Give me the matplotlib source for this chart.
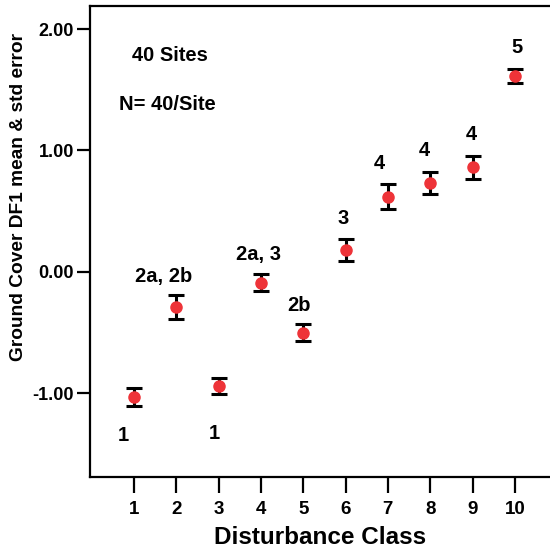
import numpy as np
import matplotlib
matplotlib.use("Agg")
import matplotlib.pyplot as plt

plt.rcParams["font.family"] = ["Liberation Sans", "DejaVu Sans"]
plt.rcParams["font.weight"] = "bold"

# data
disturbance_class = [1, 2, 3, 4, 5, 6, 7, 8, 9, 10]
df1_mean = [-1.03, -0.29, -0.94, -0.09, -0.50, 0.18, 0.62, 0.73, 0.86, 1.61]
df1_se = [0.072, 0.10, 0.068, 0.07, 0.068, 0.09, 0.10, 0.09, 0.094, 0.057]

# group letters and where they sit
group_labels = ["1", "2a, 2b", "1", "2a, 3", "2b", "3", "4", "4", "4", "5"]
label_x = [0.74, 1.71, 2.89, 3.93, 4.90, 5.94, 6.79, 7.85, 8.98, 10.05]
label_y = [-1.35, -0.04, -1.33, 0.14, -0.28, 0.44, 0.89, 1.00, 1.13, 1.85]

y_ticks = [-1.0, 0.0, 1.0, 2.0]

fig = plt.figure(figsize=(5.5, 5.54), dpi=100)
ax = fig.add_axes([90 / 550, 77 / 554, 460 / 550, 471 / 554])

ax.errorbar(disturbance_class, df1_mean, yerr=df1_se, fmt="o",
            color="#ee3338", markersize=8, ecolor="black",
            elinewidth=2.2, capsize=5.5, capthick=2.2, zorder=3)

for lab, lx, ly in zip(group_labels, label_x, label_y):
    ax.text(lx, ly, lab, ha="center", va="center", fontsize=14.5,
            fontweight="bold")

ax.text(1.85, 1.78, "40 Sites", ha="center", va="center", fontsize=14.5,
        fontweight="bold")
ax.text(1.78, 1.38, "N= 40/Site", ha="center", va="center", fontsize=14.5,
        fontweight="bold")

ax.set_xlim(-0.04, 10.83)
ax.set_ylim(-1.69, 2.19)
ax.set_xticks(disturbance_class)
ax.set_yticks(y_ticks)
ax.set_yticklabels(["%.2f" % v for v in y_ticks])

ax.spines["right"].set_visible(False)
for s in ["left", "bottom", "top"]:
    ax.spines[s].set_linewidth(1.6)

ax.tick_params(axis="x", length=11.5, width=1.6, labelsize=13.5, pad=6)
ax.tick_params(axis="y", length=9.5, width=1.6, labelsize=13, pad=2)
for t in ax.get_xticklabels() + ax.get_yticklabels():
    t.set_fontweight("bold")

ax.set_xlabel("Disturbance Class", fontsize=17.5, fontweight="bold")
ax.xaxis.set_label_coords(0.5, -0.104)
ax.set_ylabel("Ground Cover DF1 mean & std error", fontsize=13.8,
              fontweight="bold")
ax.yaxis.set_label_coords(-0.136, 0.594)

fig.savefig("out.png", dpi=100)
